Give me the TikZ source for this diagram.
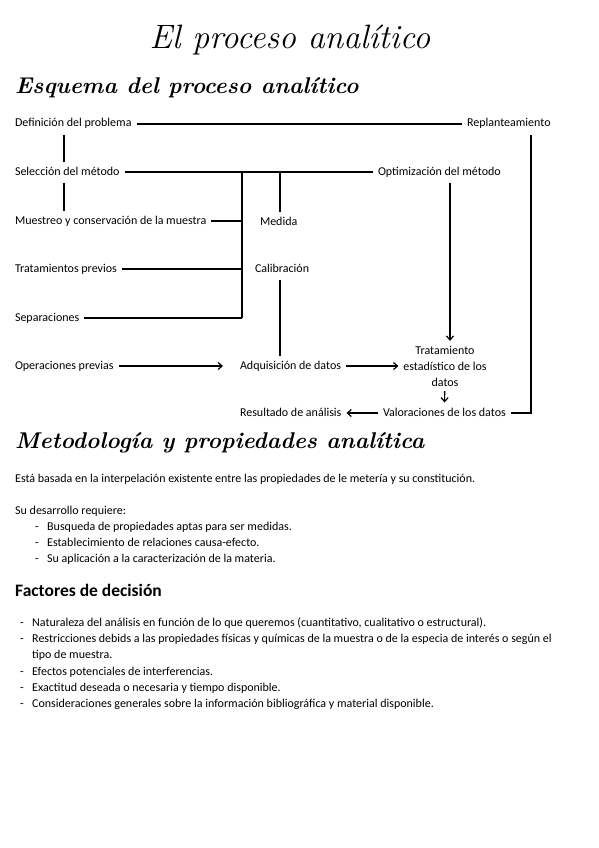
\documentclass[tikz,border=0pt]{standalone}
\usepackage{fontspec}
\newfontfamily\hand{Carlito}
\usetikzlibrary{arrows.meta, positioning, calc}

\begin{document}
\begin{tikzpicture}[x=1pt, y=-1pt,
        font=\hand\fontsize{12}{14}\selectfont,
        lbl/.style={anchor=west, inner sep=1pt, outer sep=4pt, text height=8.5pt, text depth=2.5pt},
        ctr/.style={inner sep=1pt, outer sep=4pt, align=center, font=\hand\fontsize{12}{16}\selectfont},
        body/.style={anchor=west, inner sep=0pt, text height=8.5pt, text depth=2.5pt, font=\hand\fontsize{12}{14}\selectfont},
        head/.style={anchor=west, inner sep=0pt, font=\rmfamily\bfseries\itshape\fontsize{22.8}{26}\selectfont},
        sub/.style={anchor=west, inner sep=0pt, font=\hand\bfseries\fontsize{17.5}{20}\selectfont},
        line/.style={line width=1.2pt},
        arr/.style={-{Straight Barb[length=4pt, width=7pt]}, line width=1.2pt}
    ]
        \useasboundingbox (0,0) rectangle (599,848);

        % titulos
        \node[inner sep=0pt, font=\rmfamily\itshape\fontsize{33.8}{38}\selectfont] (titulo) at (290,40) {El proceso analítico};
        \node[head] (esquema) at (15,88) {Esquema del proceso analítico};

        % esquema
        \node[lbl] (def) at (10,124) {Definición del problema};
        \node[lbl] (rep) at (462,124) {Replanteamiento};
        \node[lbl] (sel) at (10,172) {Selección del método};
        \node[lbl] (opt) at (373,172) {Optimización del método};
        \node[lbl] (mue) at (10,221) {Muestreo y conservación de la muestra};
        \node[lbl] (med) at (255,222) {Medida};
        \node[lbl] (trp) at (10,269) {Tratamientos previos};
        \node[lbl] (cal) at (250,269) {Calibración};
        \node[lbl] (sep) at (10,318) {Separaciones};
        \node[lbl] (ope) at (10,366) {Operaciones previas};
        \node[lbl] (adq) at (235,366) {Adquisición de datos};
        \node[ctr] (est) at (445,366) {Tratamiento\\estadístico de los\\datos};
        \node[lbl] (val) at (378,413) {Valoraciones de los datos};
        \node[lbl] (res) at (235,413) {Resultado de análisis};

        \coordinate (spine) at (64,0);
        \coordinate (brk) at (242,172);
        \coordinate (mx) at (280,172);
        \coordinate (ox) at (450,0);
        \coordinate (lp) at (531,413);

        \draw[line] (def) -- (rep);
        \draw[line] (def.south -| spine) -- (sel.north -| spine);
        \draw[line] (sel.south -| spine) -- (mue.north -| spine);
        \draw[line] (sel) -- (opt);
        \draw[line] (brk) -- (brk |- sep);
        \foreach \n in {mue,trp,sep}
            \draw[line] (\n) -- (\n -| brk);
        \draw[line] (mx) -- (mx |- med.north);
        \draw[line] (cal.south -| mx) -- (adq.north -| mx);
        \draw[arr, shorten >=12pt] (ope) -- (adq);
        \draw[arr] (adq) -- (est);
        \draw[arr] (opt.south -| ox) -- (est.north -| ox);
        \draw[arr] (est) -- (val);
        \draw[arr] (val) -- (res);
        \draw[line] (val) -- (lp) -- (lp |- rep.south);

        % metodologia
        \node[head] (metodo) at (15,443) {Metodología y propiedades analítica};
        \node[body] (basada) at (15,479) {Está basada en la interpelación existente entre las propiedades de le metería y su constitución.};
        \node[body] (desarrollo) at (15,511) {Su desarrollo requiere:};
        \foreach \y/\t [count=\i] in {527/{Busqueda de propiedades aptas para ser medidas.},
                543/{Establecimiento de relaciones causa-efecto.},
                559/{Su aplicación a la caracterización de la materia.}}
            \node[body] (req\i) at (35,\y) {\makebox[12pt][l]{-}\t};

        % factores
        \node[sub] (factores) at (15,590) {Factores de decisión};
        \foreach \y/\t [count=\i] in {623/{Naturaleza del análisis en función de lo que queremos (cuantitativo, cualitativo o estructural).},
                639/{Restricciones debids a las propiedades físicas y químicas de la muestra o de la especia de interés o según el},
                672/{Efectos potenciales de interferencias.},
                688/{Exactitud deseada o necesaria y tiempo disponible.},
                704/{Consideraciones generales sobre la información bibliográfica y material disponible.}}
            \node[body] (fac\i) at (20,\y) {\makebox[12pt][l]{-}\t};
        \node[body] (fac2b) at (32,655) {tipo de muestra.};
    \end{tikzpicture}
\end{document}
